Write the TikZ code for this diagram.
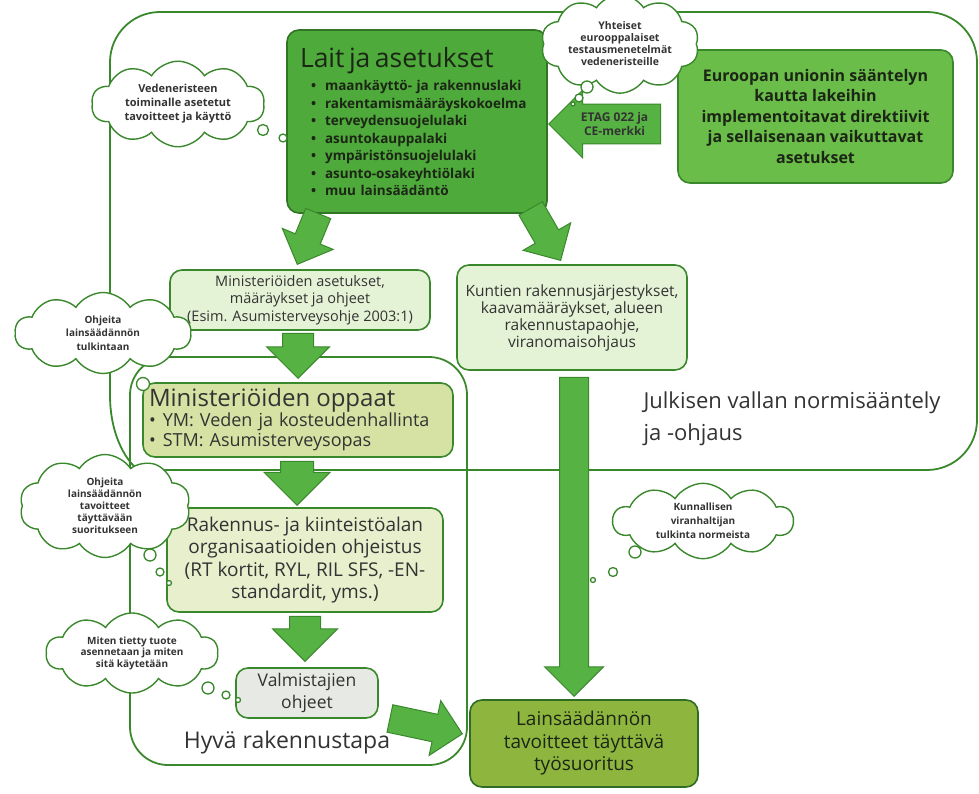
\documentclass[tikz,border=0pt]{standalone}
\usepackage{fontspec}
\setmainfont{Open Sans}
\usetikzlibrary{shapes.symbols,shapes.arrows}
\definecolor{linegreen}{RGB}{58,136,44}
\definecolor{lawgreen}{RGB}{78,170,58}
\definecolor{eugreen}{RGB}{106,189,72}
\definecolor{arrowgreen}{RGB}{86,178,66}
\definecolor{palegreen}{RGB}{228,243,214}
\definecolor{khaki}{RGB}{214,226,163}
\definecolor{palekhaki}{RGB}{231,239,205}
\definecolor{palegray}{RGB}{231,234,228}
\definecolor{olivegreen}{RGB}{142,181,62}
\definecolor{darktext}{RGB}{28,38,22}
\tikzset{region/.style={draw=linegreen, line width=1.8pt},
        box/.style={draw=linegreen, line width=1.6pt, rounded corners=12pt,
                    align=center, text=darktext, inner sep=0pt},
        lawbox/.style={box, fill=lawgreen, draw=linegreen!85!black},
        eubox/.style={box, fill=eugreen, font=\fontsize{16}{20.5}\selectfont\bfseries},
        lightbox/.style={box, fill=palegreen, text=black!80},
        guidebox/.style={box, fill=khaki, text=black!80},
        orgbox/.style={box, fill=palekhaki, text=black!80},
        makerbox/.style={box, fill=palegray, text=black!80},
        goalbox/.style={box, fill=olivegreen, draw=linegreen!80!black},
        thought/.style={cloud, cloud puffs=10, cloud puff arc=115, draw=linegreen,
                        line width=1.4pt, fill=white, align=center, inner sep=0pt,
                        text=black!80, font=\fontsize{10}{12}\selectfont\bfseries},
        bubble/.style={circle, draw=linegreen, line width=1.3pt, fill=white, inner sep=0pt},
        blockarrow/.style={single arrow, draw=linegreen, line width=1pt, fill=arrowgreen,
                           inner xsep=0pt, anchor=tip},
        }

\begin{document}
\begin{tikzpicture}[x=1pt, y=-1pt]
    \useasboundingbox (0,0) rectangle (979,794);

    % Julkisen vallan normisaantely
    \draw [region] (110,395) [rounded corners=50pt] -- (110,12) -- (977,12) -- (977,470)
        -- (190,470) [sharp corners] .. controls (135,470) and (110,445) .. (110,395) -- cycle;
    % Hyva rakennustapa
    \draw [region, rounded corners=38pt] (130,357) rectangle (467,765);

    \node [lawbox, minimum width=260, minimum height=183, text width=234, align=left,
           font=\fontsize{13.5}{17.5}\selectfont\bfseries] (laws) at (417,121.5) {
        {\fontsize{26.5}{28}\selectfont\mdseries Lait ja asetukset}\\[6pt]
        \hspace*{11pt}\textbullet\hspace{9pt}maankäyttö- ja rakennuslaki\\
        \hspace*{11pt}\textbullet\hspace{9pt}rakentamismääräyskokoelma\\
        \hspace*{11pt}\textbullet\hspace{9pt}terveydensuojelulaki\\
        \hspace*{11pt}\textbullet\hspace{9pt}asuntokauppalaki\\
        \hspace*{11pt}\textbullet\hspace{9pt}ympäristönsuojelulaki\\
        \hspace*{11pt}\textbullet\hspace{9pt}asunto-osakeyhtiölaki\\
        \hspace*{11pt}\textbullet\hspace{9pt}muu lainsäädäntö};

    \node [eubox, minimum width=275, minimum height=133] (eu) at (815.5,116.5) {
        Euroopan unionin sääntelyn\\ kautta lakeihin\\ implementoitavat direktiivit\\
        ja sellaisenaan vaikuttavat\\ asetukset};

    \node [blockarrow, shape border rotate=180, minimum height=112, minimum width=68,
           inner xsep=3pt, inner ysep=6pt, single arrow head extend=13pt, text=black!80,
           font=\fontsize{12}{14}\selectfont\bfseries, align=center] (etag) at (548,124)
        {ETAG 022 ja\\ CE-merkki};

    \node [lightbox, minimum width=260, minimum height=60,
           font=\fontsize{14.5}{17.5}\selectfont] (asetukset) at (300,300) {
        Ministeriöiden asetukset,\\ määräykset ja ohjeet\\ (Esim. Asumisterveysohje 2003:1)};

    \node [lightbox, minimum width=230, minimum height=105,
           font=\fontsize{15.5}{17}\selectfont] (kuntien) at (572,317.5) {
        Kuntien rakennusjärjestykset,\\ kaavamääräykset, alueen\\ rakennustapaohje,\\
        viranomaisohjaus};

    \node [guidebox, minimum width=310, minimum height=74, text width=298, align=left,
           font=\fontsize{18}{20}\selectfont] (oppaat) at (298,420) {
        {\fontsize{24}{26}\selectfont Ministeriöiden oppaat}\\
        \textbullet\hspace{7pt}YM: Veden ja kosteudenhallinta\\
        \textbullet\hspace{7pt}STM: Asumisterveysopas};

    \node [orgbox, minimum width=276, minimum height=104,
           font=\fontsize{19}{22.5}\selectfont] (rakennus) at (305,560) {
        Rakennus- ja kiinteistöalan\\ organisaatioiden ohjeistus\\
        (RT kortit, RYL, RIL SFS, -EN-\\ standardit, yms.)};

    \node [makerbox, minimum width=142, minimum height=50,
           font=\fontsize{17.5}{22}\selectfont] (valmistajat) at (307,693) {
        Valmistajien\\ ohjeet};

    \node [goalbox, minimum width=228, minimum height=87,
           font=\fontsize{19}{22.5}\selectfont] (tavoite) at (584,743.5) {
        Lainsäädännön\\ tavoitteet täyttävä\\ työsuoritus};

    \node [anchor=west, align=left, text=black!80, font=\fontsize{22}{32}\selectfont]
        (julkinen) at (640,419) {Julkisen vallan normisääntely\\ ja -ohjaus};
    \node [text=black!80, font=\fontsize{23}{26}\selectfont] (hyva) at (287,743)
        {Hyvä rakennustapa};

    % block arrows
    \node [blockarrow, rotate=247.6, minimum height=55, minimum width=54, inner ysep=13pt,
           single arrow head extend=14pt] (a1) at (297,265) {};
    \node [blockarrow, rotate=-60, minimum height=60, minimum width=54, inner ysep=13pt,
           single arrow head extend=14pt] (a2) at (561,261) {};
    \node [blockarrow, rotate=-90, minimum height=45, minimum width=62, inner ysep=15pt,
           single arrow head extend=16pt] (a3) at (298,379) {};
    \node [blockarrow, rotate=-90, minimum height=44, minimum width=65, inner ysep=16pt,
           single arrow head extend=16.5pt] (a4) at (297,506) {};
    \node [blockarrow, rotate=-90, minimum height=45, minimum width=64, inner ysep=15pt,
           single arrow head extend=17pt] (a5) at (305,662) {};
    \node [blockarrow, rotate=-12, minimum height=74, minimum width=55, inner ysep=13.5pt,
           single arrow head extend=14pt] (a6) at (463,734) {};
    \node [blockarrow, rotate=-90, minimum height=319, minimum width=58, inner ysep=14pt,
           single arrow head extend=15pt] (a7) at (574,697) {};

    % thought clouds
    \node [thought, aspect=2.4, minimum width=173, minimum height=72,
           font=\fontsize{11}{14}\selectfont\bfseries] (vedeneriste) at (178,104) {
        Vedeneristeen\\ toiminalle asetetut\\ tavoitteet ja käyttö};
    \node [bubble, minimum size=11] (v1) at (263,130) {};
    \node [bubble, minimum size=8] (v2) at (283,138) {};

    \node [thought, aspect=1.9, minimum width=158, minimum height=82,
           font=\fontsize{10.5}{12}\selectfont\bfseries] (yhteiset) at (620,44) {
        Yhteiset\\ eurooppalaiset\\ testausmenetelmät\\ vedeneristeille};
    \node [bubble, minimum size=12] (y1) at (587,87) {};
    \node [bubble, minimum size=8] (y2) at (579,98) {};
    \node [bubble, minimum size=4] (y3) at (573,104) {};

    \node [thought, aspect=2.2, minimum width=176, minimum height=81,
           font=\fontsize{10}{13.5}\selectfont\bfseries] (tulkinta) at (103,333) {
        Ohjeita\\ lainsäädännön\\ tulkintaan};
    \node [bubble, minimum size=13] (t1) at (143,384) {};

    \node [thought, aspect=2.1, minimum width=166, minimum height=80] (ohjeet) at (105,506) {
        Ohjeita\\ lainsäädännön\\ tavoitteet\\ täyttävään\\ suoritukseen};
    \node [bubble, minimum size=12] (o1) at (150,555) {};
    \node [bubble, minimum size=8] (o2) at (160,572) {};
    \node [bubble, minimum size=5] (o3) at (169,583) {};

    \node [thought, aspect=2.5, minimum width=172, minimum height=68,
           font=\fontsize{10}{11.5}\selectfont\bfseries] (miten) at (132,653) {
        Miten tietty tuote\\ asennetaan ja miten\\ sitä käytetään};
    \node [bubble, minimum size=12] (m1) at (208,688) {};
    \node [bubble, minimum size=8] (m2) at (226,695) {};
    \node [bubble, minimum size=5] (m3) at (238,700) {};

    \node [thought, aspect=2.4, minimum width=180, minimum height=74,
           font=\fontsize{10}{14}\selectfont\bfseries] (kunnallinen) at (703,521) {
        Kunnallisen\\ viranhaltijan\\ tulkinta normeista};
    \node [bubble, minimum size=12] (k1) at (635,552) {};
    \node [bubble, minimum size=9] (k2) at (613,572) {};
    \node [bubble, minimum size=5] (k3) at (593,580) {};

\end{tikzpicture}
\end{document}
